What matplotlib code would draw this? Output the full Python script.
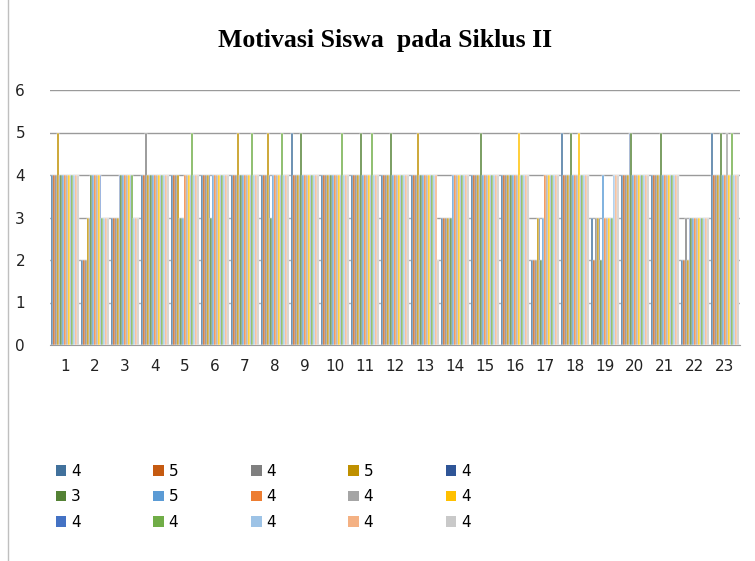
import matplotlib
matplotlib.use("Agg")
import matplotlib.pyplot as plt
import numpy as np
from matplotlib.patches import Patch
from matplotlib.lines import Line2D

# ── Data ──────────────────────────────────────────────────────────────────────
categories = [str(i) for i in range(1, 24)]
series_names = ["4", "5", "4", "5", "4",
                "3", "5", "4", "4", "4",
                "4", "4", "4", "4", "4"]
series_colors = ["#41719C", "#C55A11", "#7F7F7F", "#BF9000", "#2F5597",
                 "#548235", "#5B9BD5", "#ED7D31", "#A5A5A5", "#FFC000",
                 "#4472C4", "#70AD47", "#9DC3E6", "#F4B183", "#C9C9C9"]

# one row per category (1..23), 15 values per row
g01 = [4, 4, 4, 5, 4, 4, 4, 4, 4, 4, 4, 4, 4, 4, 4]
g02 = [2, 2, 2, 3, 3, 4, 4, 4, 4, 4, 4, 3, 3, 3, 3]
g03 = [3, 3, 3, 3, 4, 4, 4, 4, 4, 4, 4, 4, 3, 3, 3]
g04 = [4, 4, 5, 4, 4, 4, 4, 4, 4, 4, 4, 4, 4, 4, 4]
g05 = [4, 4, 4, 4, 3, 3, 3, 4, 4, 4, 4, 5, 4, 4, 4]
g06 = [4, 4, 4, 4, 4, 3, 4, 4, 4, 4, 4, 4, 4, 4, 4]
g07 = [4, 4, 4, 5, 4, 4, 4, 4, 4, 4, 4, 5, 4, 4, 4]
g08 = [4, 4, 4, 5, 4, 3, 4, 4, 4, 4, 4, 5, 4, 4, 4]
g09 = [5, 4, 4, 4, 4, 5, 4, 4, 4, 4, 4, 4, 4, 4, 4]
g10 = [4, 4, 4, 4, 4, 4, 4, 4, 4, 4, 4, 5, 4, 4, 4]
g11 = [4, 4, 4, 4, 4, 5, 4, 4, 4, 4, 4, 5, 4, 4, 4]
g12 = [4, 4, 4, 4, 4, 5, 4, 4, 4, 4, 4, 4, 4, 4, 4]
g13 = [4, 4, 4, 5, 4, 4, 4, 4, 4, 4, 4, 4, 4, 4, 2]
g14 = [3, 3, 3, 3, 3, 3, 4, 4, 4, 4, 4, 4, 4, 4, 4]
g15 = [4, 4, 4, 4, 4, 5, 4, 4, 4, 4, 4, 4, 4, 4, 4]
g16 = [4, 4, 4, 4, 4, 4, 4, 4, 4, 5, 4, 4, 4, 4, 4]
g17 = [2, 2, 2, 3, 3, 2, 3, 4, 4, 4, 4, 4, 4, 4, 4]
g18 = [5, 4, 4, 4, 4, 5, 4, 4, 4, 5, 4, 4, 4, 4, 4]
g19 = [3, 2, 3, 3, 3, 2, 4, 3, 3, 3, 3, 3, 4, 4, 4]
g20 = [4, 4, 4, 4, 5, 5, 4, 4, 4, 4, 4, 4, 4, 4, 4]
g21 = [4, 4, 4, 4, 4, 5, 4, 4, 4, 4, 4, 4, 4, 4, 4]
g22 = [2, 2, 3, 2, 3, 3, 3, 3, 3, 3, 3, 3, 3, 3, 3]
g23 = [5, 4, 4, 4, 4, 5, 4, 4, 5, 4, 4, 5, 4, 4, 4]

values = np.array([g01, g02, g03, g04, g05, g06, g07, g08, g09, g10, g11, g12,
                   g13, g14, g15, g16, g17, g18, g19, g20, g21, g22, g23])

# ── Figure ────────────────────────────────────────────────────────────────────
W, H = 755, 561
fig = plt.figure(figsize=(W / 100, H / 100), dpi=100)
ax = fig.add_axes([50 / W, 1 - 345 / H, 690 / W, 255 / H])

n_ser = len(series_names)
x = np.arange(len(categories))
bw = 1 / (n_ser + 1.5)
for i in range(n_ser):
    off = -0.5 + 0.75 * bw + (i + 0.5) * bw
    ax.bar(x + off, values[:, i], width=bw, color=series_colors[i],
           edgecolor="white", linewidth=0.35, zorder=3)

ax.set_xlim(-0.5, len(categories) - 0.5)
ax.set_ylim(0, 6)
ax.set_yticks(range(7))
ax.set_xticks(x)
ax.set_xticklabels(categories)
ax.tick_params(axis="both", length=0, labelsize=11, colors="#222222")
ax.tick_params(axis="x", pad=10)
ax.tick_params(axis="y", pad=18)
ax.grid(axis="y", color="#9A9A9A", linewidth=1.0, zorder=0)
for s in ["left", "right", "top"]:
    ax.spines[s].set_visible(False)
ax.spines["bottom"].set_color("#9A9A9A")

fig.text(385 / W, 1 - 40 / H, "Motivasi Siswa  pada Siklus II",
         ha="center", va="center", fontsize=18.5, fontweight="bold",
         family="Liberation Serif")

# legend: row-major order in 5 columns
ncol = 5
nrow = 3
handles = [Patch(facecolor=c, edgecolor="none") for c in series_colors]
order = [r * ncol + c for c in range(ncol) for r in range(nrow)]
fig.legend([handles[k] for k in order], [series_names[k] for k in order],
           ncol=ncol, loc="upper left", bbox_to_anchor=(42 / W, 1 - 450 / H),
           frameon=False, fontsize=11, handlelength=0.7, handleheight=0.7,
           handletextpad=0.3, columnspacing=4.75, labelspacing=0.7)

# chart area border (left edge visible)
fig.add_artist(Line2D([8 / W, 8 / W], [0, 1], color="#BFBFBF", linewidth=1,
                      transform=fig.transFigure))

fig.savefig("out.png", dpi=100)
